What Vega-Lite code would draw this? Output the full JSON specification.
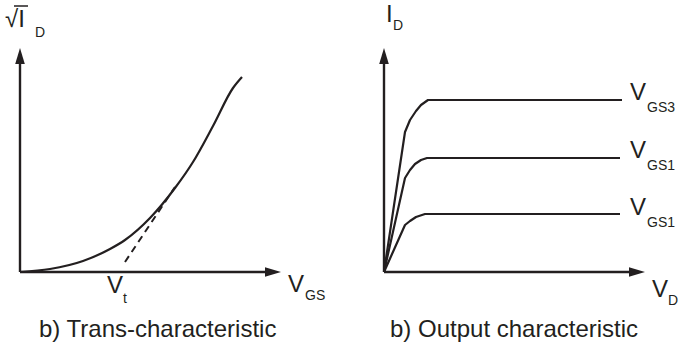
{
  "$schema": "https://vega.github.io/schema/vega-lite/v6.json",
  "padding": 0,
  "spacing": 0,
  "bounds": "flush",
  "config": {"view": {"stroke": null}, "font": "Liberation Sans"},
  "datasets": {
    "transAxes": [
      {"series": "vaxis", "x": 0, "y": 0},
      {"series": "vaxis", "x": 0, "y": 10.6},
      {"series": "haxis", "x": 0, "y": 0},
      {"series": "haxis", "x": 12.7, "y": 0}
    ],
    "radicalBar": [
      {"x": -0.3, "y": 13.3},
      {"x": 0.4, "y": 13.3}
    ],
    "transCurve": [
      {"x": 0, "y": 0},
      {"x": 1.5, "y": 0.15},
      {"x": 3.15, "y": 0.55},
      {"x": 4.5, "y": 1.15},
      {"x": 5.25, "y": 1.6},
      {"x": 6.5, "y": 2.7},
      {"x": 7.75, "y": 4.2},
      {"x": 8.65, "y": 5.5},
      {"x": 9.65, "y": 7.3},
      {"x": 10.65, "y": 9.2},
      {"x": 11.1, "y": 9.75}
    ],
    "transTangent": [
      {"x": 5.25, "y": 0.5},
      {"x": 7.75, "y": 4.25}
    ],
    "outAxes": [
      {"series": "vaxis", "x": 0, "y": 0},
      {"series": "vaxis", "x": 0, "y": 10.6},
      {"series": "haxis", "x": 0, "y": 0},
      {"series": "haxis", "x": 12.7, "y": 0}
    ],
    "outCurves": [
      {"series": "VGS3", "x": 0, "y": 0},
      {"series": "VGS3", "x": 1.05, "y": 7.0},
      {"series": "VGS3", "x": 1.3, "y": 7.6},
      {"series": "VGS3", "x": 1.6, "y": 8.05},
      {"series": "VGS3", "x": 1.85, "y": 8.35},
      {"series": "VGS3", "x": 2.2, "y": 8.6},
      {"series": "VGS3", "x": 11.9, "y": 8.6},
      {"series": "VGS2", "x": 0, "y": 0},
      {"series": "VGS2", "x": 1.05, "y": 4.7},
      {"series": "VGS2", "x": 1.3, "y": 5.1},
      {"series": "VGS2", "x": 1.55, "y": 5.4},
      {"series": "VGS2", "x": 1.85, "y": 5.6},
      {"series": "VGS2", "x": 2.15, "y": 5.7},
      {"series": "VGS2", "x": 11.8, "y": 5.7},
      {"series": "VGS1", "x": 0, "y": 0},
      {"series": "VGS1", "x": 1.05, "y": 2.35},
      {"series": "VGS1", "x": 1.3, "y": 2.55},
      {"series": "VGS1", "x": 1.6, "y": 2.75},
      {"series": "VGS1", "x": 2.05, "y": 2.9},
      {"series": "VGS1", "x": 11.8, "y": 2.9}
    ],
    "arrows": [
      {"dir": "up", "x": 0, "y": 10.8},
      {"dir": "right", "x": 12.65, "y": 0}
    ],
    "transLabels": [
      {"text": "√I", "x": -0.75, "y": 12.25, "role": "main"},
      {"text": "D", "x": 0.75, "y": 11.75, "role": "sub"},
      {"text": "V", "x": 13.4, "y": -1.0, "role": "main"},
      {"text": "GS", "x": 14.25, "y": -1.4, "role": "sub"},
      {"text": "V", "x": 4.35, "y": -1.05, "role": "main"},
      {"text": "t", "x": 5.15, "y": -1.55, "role": "sub"},
      {"text": "b) Trans-characteristic", "x": 0.95, "y": -3.25, "role": "caption"}
    ],
    "outLabels": [
      {"text": "I", "x": 0.1, "y": 12.5, "role": "main"},
      {"text": "D", "x": 0.45, "y": 12.1, "role": "sub"},
      {"text": "V", "x": 12.3, "y": 8.6, "role": "main"},
      {"text": "GS3", "x": 13.15, "y": 8.0, "role": "sub"},
      {"text": "V", "x": 12.3, "y": 5.7, "role": "main"},
      {"text": "GS1", "x": 13.15, "y": 5.1, "role": "sub"},
      {"text": "V", "x": 12.3, "y": 2.85, "role": "main"},
      {"text": "GS1", "x": 13.15, "y": 2.25, "role": "sub"},
      {"text": "V", "x": 13.4, "y": -1.25, "role": "main"},
      {"text": "D", "x": 14.2, "y": -1.65, "role": "sub"},
      {"text": "b) Output characteristic", "x": 0.3, "y": -3.25, "role": "caption"}
    ]
  },
  "hconcat": [
    {
      "width": 340,
      "height": 348,
      "encoding": {
        "x": {"field": "x", "type": "quantitative", "scale": {"domain": [-1, 16]}, "axis": null},
        "y": {"field": "y", "type": "quantitative", "scale": {"domain": [-3.8, 13.6]}, "axis": null}
      },
      "layer": [
        {
          "data": {"name": "transAxes"},
          "mark": {"type": "line", "stroke": "#231f20", "strokeWidth": 2.4},
          "encoding": {"detail": {"field": "series"}}
        },
        {
          "data": {"name": "transCurve"},
          "mark": {"type": "line", "stroke": "#231f20", "strokeWidth": 2.2, "interpolate": "monotone"},
          "encoding": {}
        },
        {
          "data": {"name": "transTangent"},
          "mark": {"type": "line", "stroke": "#231f20", "strokeWidth": 2, "strokeDash": [7, 5]},
          "encoding": {}
        },
        {
          "data": {"name": "radicalBar"},
          "mark": {"type": "line", "stroke": "#231f20", "strokeWidth": 1.5},
          "encoding": {}
        },
        {
          "data": {"name": "arrows"},
          "mark": {"type": "point", "filled": true, "opacity": 1, "color": "#231f20", "size": 256},
          "encoding": {
            "shape": {"field": "dir", "type": "nominal", "legend": null,
              "scale": {"domain": ["up", "right"], "range": ["M0,-1L0.6,1L-0.6,1Z", "M1,0L-1,0.6L-1,-0.6Z"]}}
          }
        },
        {
          "data": {"name": "transLabels"},
          "mark": {"type": "text", "align": "left", "baseline": "alphabetic", "color": "#231f20"},
          "encoding": {
            "text": {"field": "text"},
            "size": {"field": "role", "type": "nominal", "legend": null,
              "scale": {"type": "ordinal", "domain": ["main", "sub", "caption"], "range": [24, 14, 24]}}
          }
        }
      ]
    },
    {
      "width": 340,
      "height": 348,
      "encoding": {
        "x": {"field": "x", "type": "quantitative", "scale": {"domain": [-2.2, 14.8]}, "axis": null},
        "y": {"field": "y", "type": "quantitative", "scale": {"domain": [-3.8, 13.6]}, "axis": null}
      },
      "layer": [
        {
          "data": {"name": "outAxes"},
          "mark": {"type": "line", "stroke": "#231f20", "strokeWidth": 2.4},
          "encoding": {"detail": {"field": "series"}}
        },
        {
          "data": {"name": "outCurves"},
          "mark": {"type": "line", "stroke": "#231f20", "strokeWidth": 2.2, "strokeJoin": "round"},
          "encoding": {"detail": {"field": "series"}}
        },
        {
          "data": {"name": "arrows"},
          "mark": {"type": "point", "filled": true, "opacity": 1, "color": "#231f20", "size": 256},
          "encoding": {
            "shape": {"field": "dir", "type": "nominal", "legend": null,
              "scale": {"domain": ["up", "right"], "range": ["M0,-1L0.6,1L-0.6,1Z", "M1,0L-1,0.6L-1,-0.6Z"]}}
          }
        },
        {
          "data": {"name": "outLabels"},
          "mark": {"type": "text", "align": "left", "baseline": "alphabetic", "color": "#231f20"},
          "encoding": {
            "text": {"field": "text"},
            "size": {"field": "role", "type": "nominal", "legend": null,
              "scale": {"type": "ordinal", "domain": ["main", "sub", "caption"], "range": [24, 14, 24]}}
          }
        }
      ]
    }
  ]
}
